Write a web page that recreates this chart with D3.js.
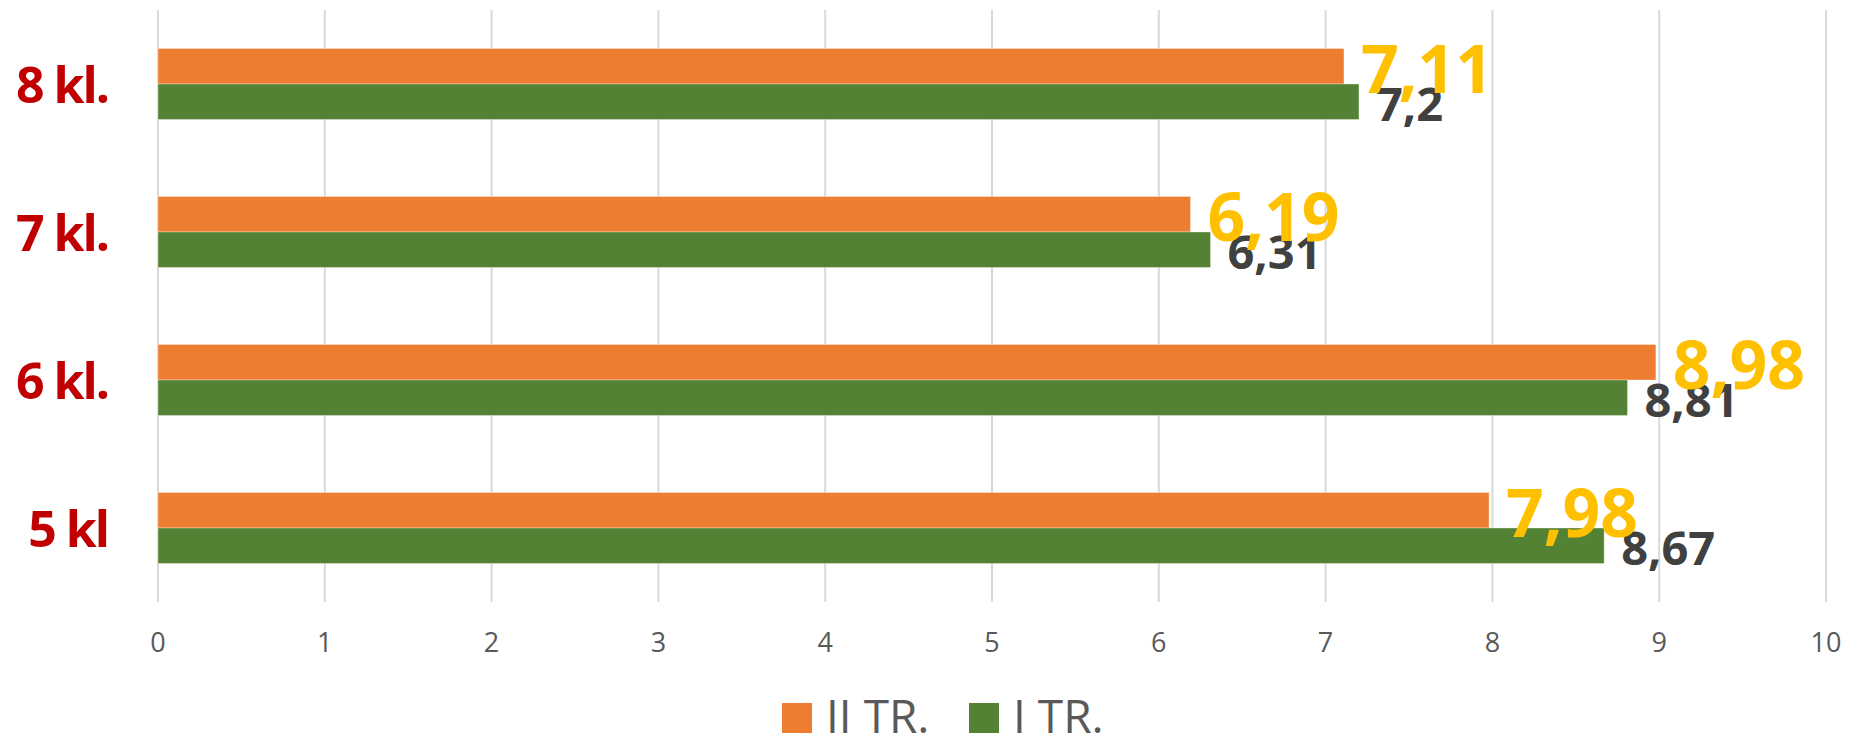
<!DOCTYPE html>
<html>
  <head>
    <meta charset="utf-8">
    <title>kl. II TR. / I TR.</title>
    <script src="https://d3js.org/d3.v7.min.js"></script>
  </head>
  <body style="margin:0;background:#fff;">
<style>
  text { font-family: "Open Sans", sans-serif; }
  .grid line { stroke: #d9d9d9; stroke-width: 2; }
  .tick-label { fill: #595959; font-size: 27px; }
  .cat-label { fill: #c00000; font-size: 50px; font-weight: bold; letter-spacing: -2px; }
  .legend text { fill: #595959; font-size: 46px; }
</style>
<script>

  // data
  var categories = ["8 kl.", "7 kl.", "6 kl.", "5 kl"],
      seriesNames = ["II TR.", "I TR."],
      trII = [7.11, 6.19, 8.98, 7.98],
      trI = [7.2, 6.31, 8.81, 8.67],
      labelsII = ["7,11", "6,19", "8,98", "7,98"],
      labelsI = ["7,2", "6,31", "8,81", "8,67"],
      ticks = [0, 1, 2, 3, 4, 5, 6, 7, 8, 9, 10];

  var w = 1868, h = 737;
  var colors = { "II TR.": "#ed7d31", "I TR.": "#548235" };
  var labelStyle = {
    "II TR.": { fill: "#ffc000", size: 66 },
    "I TR.": { fill: "#404040", size: 47 }
  };

  var svg = d3.select("body").append("svg")
    .attr("width", w)
    .attr("height", h);

  var x = d3.scaleLinear()
    .domain([0, 10])
    .range([158, 1826]);

  var y0 = d3.scaleBand()
    .domain(categories)
    .range([10, 602])
    .paddingInner(0.52)
    .paddingOuter(0.26);

  var y1 = d3.scaleBand()
    .domain(seriesNames)
    .range([0, y0.bandwidth()]);

  // gridlines
  svg.append("g")
    .attr("class", "grid")
    .selectAll("line")
    .data(ticks)
    .enter()
    .append("line")
    .attr("x1", function(d) { return x(d); })
    .attr("x2", function(d) { return x(d); })
    .attr("y1", 10)
    .attr("y2", 602);

  // tick labels
  svg.append("g")
    .selectAll("text")
    .data(ticks)
    .enter()
    .append("text")
    .attr("class", "tick-label")
    .attr("x", function(d) { return x(d); })
    .attr("y", 652)
    .attr("text-anchor", "middle")
    .text(function(d) { return d; });

  // rows of data
  var rows = categories.map(function(c, i) {
    return {
      cat: c,
      bars: [
        { s: "II TR.", v: trII[i], label: labelsII[i] },
        { s: "I TR.", v: trI[i], label: labelsI[i] }
      ]
    };
  });

  var group = svg.append("g")
    .selectAll("g")
    .data(rows)
    .enter()
    .append("g")
    .attr("transform", function(d) { return "translate(0," + y0(d.cat) + ")"; });

  group.selectAll("rect")
    .data(function(d) { return d.bars; })
    .enter()
    .append("rect")
    .attr("x", x(0))
    .attr("y", function(d) { return y1(d.s); })
    .attr("width", function(d) { return x(d.v) - x(0); })
    .attr("height", y1.bandwidth())
    .style("fill", function(d) { return colors[d.s]; })
    .style("stroke", "rgba(255,255,255,0.35)")
    .style("stroke-width", 1);

  // green labels first so the big yellow ones sit on top
  group.selectAll("text.val")
    .data(function(d) { return d.bars.slice().reverse(); })
    .enter()
    .append("text")
    .attr("class", "val")
    .attr("x", function(d) { return x(d.v) + 17; })
    .attr("y", function(d) { return y1(d.s) + y1.bandwidth() / 2 + 1; })
    .attr("dominant-baseline", "central")
    .style("fill", function(d) { return labelStyle[d.s].fill; })
    .style("font-size", function(d) { return labelStyle[d.s].size + "px"; })
    .style("font-weight", "bold")
    .text(function(d) { return d.label; });

  // category labels
  svg.append("g")
    .selectAll("text")
    .data(categories)
    .enter()
    .append("text")
    .attr("class", "cat-label")
    .attr("x", 108)
    .attr("y", function(d) { return y0(d) + y0.bandwidth() / 2; })
    .attr("text-anchor", "end")
    .attr("dominant-baseline", "central")
    .text(function(d) { return d; });

  // legend
  var legendX = [782, 969];
  var legend = svg.append("g")
    .attr("class", "legend")
    .selectAll("g")
    .data(seriesNames)
    .enter()
    .append("g")
    .attr("transform", function(d, i) { return "translate(" + legendX[i] + ",703)"; });

  legend.append("rect")
    .attr("width", 30)
    .attr("height", 30)
    .style("fill", function(d) { return colors[d]; });

  legend.append("text")
    .attr("x", 44)
    .attr("y", 30)
    .text(function(d) { return d; });

</script>
  </body>
</html>
